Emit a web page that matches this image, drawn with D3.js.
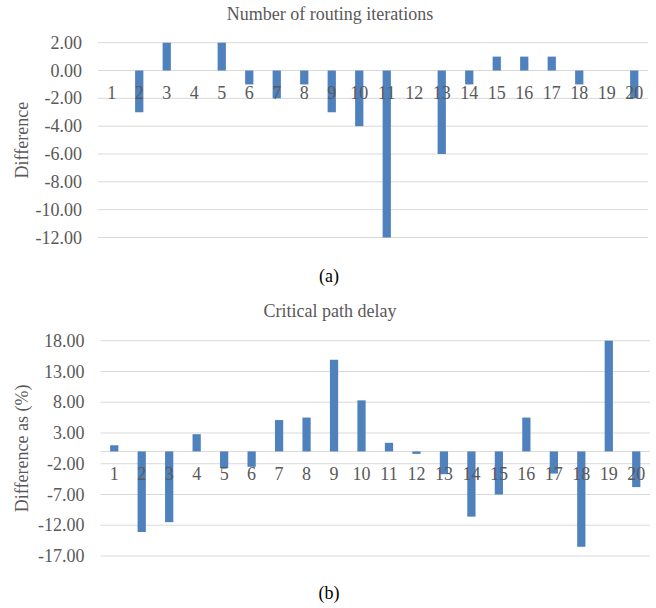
<!DOCTYPE html>
<html>
<head>
<meta charset="utf-8">
<script src="https://cdn.jsdelivr.net/npm/d3@7"></script>
<style>
  body { margin: 0; background: #fff; }
  svg { display: block; }
</style>
</head>
<body>
<svg id="chart" width="656" height="608"></svg>
<script>
// categories shared by both panels
const categories = d3.range(1, 21)

// (a) number of routing iterations, difference
const iterValues = [0, -3, 2, 0, 2, -1, -2, -1, -3, -4, -12, 0, -6, -1, 1, 1, 1, -1, 0, -2]
const iterTicks = [2, 0, -2, -4, -6, -8, -10, -12]

// (b) critical path delay, difference in %
const delayValues = [1.0, -13.1, -11.5, 2.8, -2.7, -2.5, 5.1, 5.5, 14.9, 8.3, 1.4, -0.4, -3.7, -10.6, -7.0, 5.5, -3.6, -15.5, 18.0, -5.8]
const delayTicks = [18, 13, 8, 3, -2, -7, -12, -17]

const barColor = '#4f81bd'
const gridColor = '#d9d9d9'
const textColor = '#595959'
const serif = "'Liberation Serif', 'Times New Roman', Times, 'DejaVu Serif', serif"

// plain hyphen minus like the original, not the unicode one
const fmt = d => d.toFixed(2)

const svg = d3.select('#chart')
  .attr('font-family', serif)

function panel(cfg) {
  const g = svg.append('g')

  const x = d3.scaleBand()
    .domain(categories)
    .range([cfg.left, cfg.right])
    .paddingInner(0.7)
    .paddingOuter(0.35)

  const y = d3.scaleLinear()
    .domain(d3.extent(cfg.ticks))
    .range([cfg.bottom, cfg.top])

  // gridlines
  g.selectAll('.grid')
    .data(cfg.ticks)
    .enter()
    .append('line')
    .attr('x1', cfg.left)
    .attr('x2', cfg.right)
    .attr('y1', d => y(d))
    .attr('y2', d => y(d))
    .attr('stroke', gridColor)
    .attr('stroke-width', 1)

  // zero axis line
  g.append('line')
    .attr('x1', cfg.left)
    .attr('x2', cfg.right)
    .attr('y1', y(0))
    .attr('y2', y(0))
    .attr('stroke', gridColor)
    .attr('stroke-width', 1)

  // y tick labels
  g.selectAll('.ytick')
    .data(cfg.ticks)
    .enter()
    .append('text')
    .attr('x', cfg.left - 16)
    .attr('y', d => y(d))
    .attr('dy', '0.34em')
    .attr('text-anchor', 'end')
    .attr('font-family', serif)
    .attr('font-size', 18)
    .attr('fill', textColor)
    .text(fmt)

  // bars
  g.selectAll('.bar')
    .data(cfg.values)
    .enter()
    .append('rect')
    .attr('x', (d, i) => x(categories[i]))
    .attr('width', x.bandwidth())
    .attr('y', d => y(Math.max(0, d)))
    .attr('height', d => Math.abs(y(d) - y(0)))
    .attr('fill', barColor)

  // category labels sit just under the zero line
  g.selectAll('.xtick')
    .data(categories)
    .enter()
    .append('text')
    .attr('x', d => x(d) + x.bandwidth() / 2)
    .attr('y', y(0) + 28.5)
    .attr('text-anchor', 'middle')
    .attr('font-family', serif)
    .attr('font-size', 18)
    .attr('fill', textColor)
    .text(d => d)

  // chart title
  g.append('text')
    .attr('x', 330)
    .attr('y', cfg.titleY)
    .attr('text-anchor', 'middle')
    .attr('font-family', serif)
    .attr('font-size', 18)
    .attr('fill', textColor)
    .text(cfg.title)

  // y axis title
  const midY = (cfg.top + cfg.bottom) / 2
  g.append('text')
    .attr('transform', `translate(28,${midY}) rotate(-90)`)
    .attr('text-anchor', 'middle')
    .attr('font-family', serif)
    .attr('font-size', 18)
    .attr('fill', textColor)
    .text(cfg.yTitle)

  // caption
  g.append('text')
    .attr('x', 329)
    .attr('y', cfg.captionY)
    .attr('text-anchor', 'middle')
    .attr('font-family', serif)
    .attr('font-size', 18)
    .attr('fill', '#000')
    .text(cfg.caption)
}

panel({
  values: iterValues,
  ticks: iterTicks,
  left: 98, right: 648, top: 42.7, bottom: 237.5,
  title: 'Number of routing iterations', titleY: 20,
  yTitle: 'Difference',
  caption: '(a)', captionY: 282
})

panel({
  values: delayValues,
  ticks: delayTicks,
  left: 100.5, right: 650, top: 340.7, bottom: 556,
  title: 'Critical path delay', titleY: 317,
  yTitle: 'Difference as (%)',
  caption: '(b)', captionY: 599
})
</script>
</body>
</html>
